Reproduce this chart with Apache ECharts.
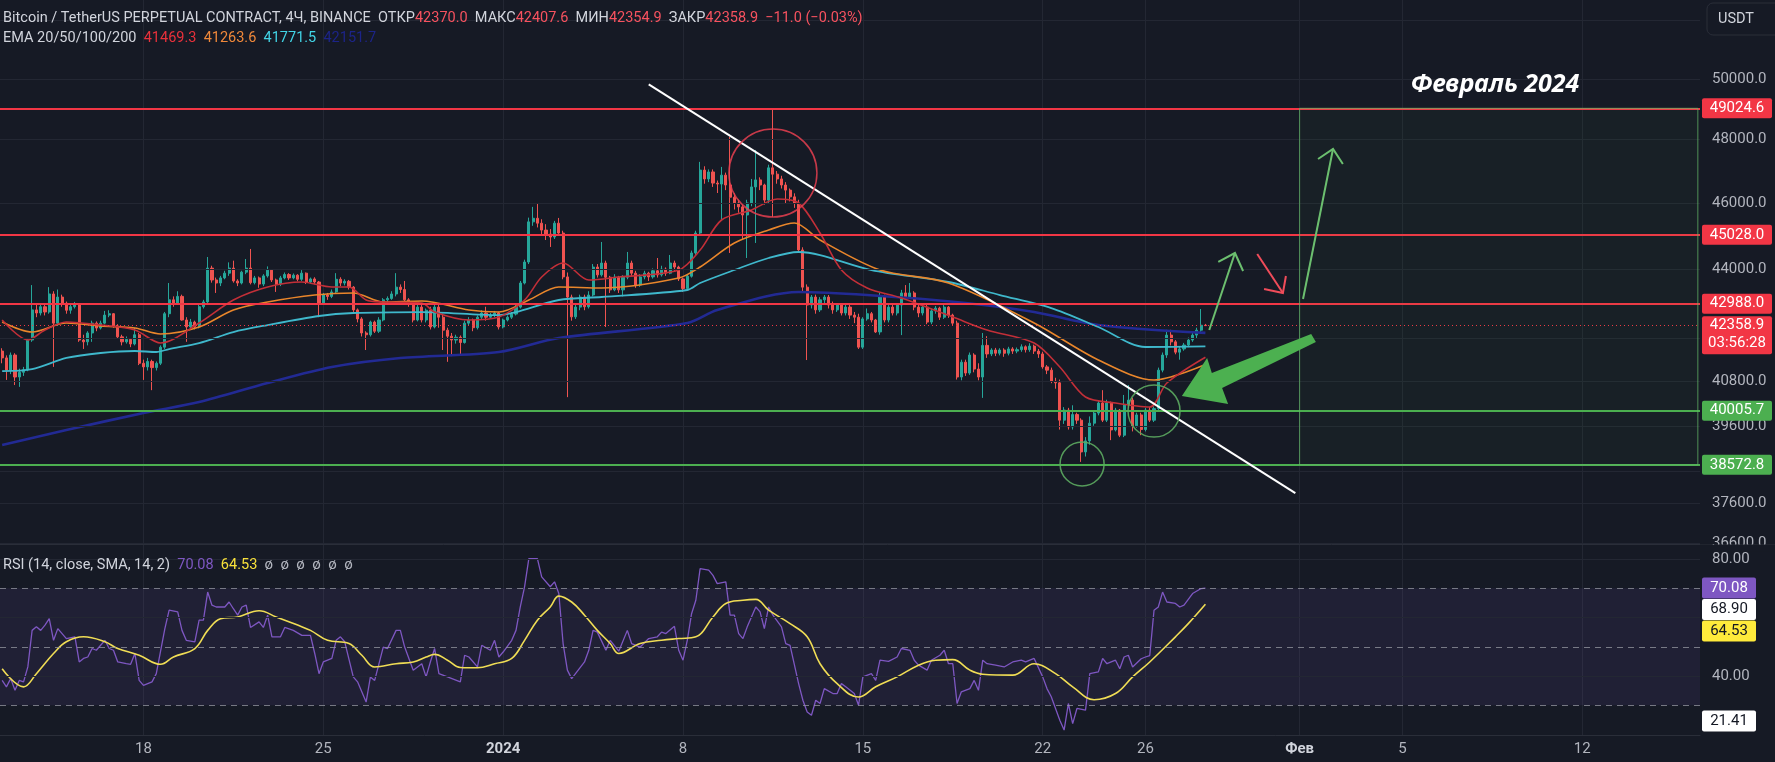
<!DOCTYPE html>
<html><head><meta charset="utf-8">
<script src="https://cdn.jsdelivr.net/npm/echarts/dist/echarts.min.js"></script>
<style>html,body{margin:0;padding:0;background:#161a25;overflow:hidden}#c{width:1775px;height:762px}</style>
</head><body><div id="c"></div>
<script>
// ---------- time grid (4H candles) ----------
const START = Date.UTC(2023, 11, 12, 12);
const N_SLOTS = 397;
const categories = [];
for (let i = 0; i < N_SLOTS; i++) {
  categories.push(new Date(START + i * 4 * 3600 * 1000).toISOString().slice(0, 16).replace('T', ' '));
}
const timeLabels = [
  ['2023-12-18 00:00', '18'], ['2023-12-25 00:00', '25'], ['2024-01-01 00:00', '2024'],
  ['2024-01-08 00:00', '8'], ['2024-01-15 00:00', '15'], ['2024-01-22 00:00', '22'],
  ['2024-01-26 00:00', '26'], ['2024-02-01 00:00', 'Фев'], ['2024-02-05 00:00', '5'],
  ['2024-02-12 00:00', '12']
];
const boldLabels = ['2024', 'Фев'];

// ---------- candles [open, close, low, high] ----------
const ohlc = [
[41640,41450,41300,41720],[41450,41110,40840,41520],[41110,41530,41000,41600],[41530,40920,40700,41580],
[40920,41050,40650,41150],[41050,41120,40950,41200],[41120,41950,41080,42000],[41950,42810,41900,43530],
[42810,42720,42600,43000],[42720,42900,42650,43000],[42900,42750,42650,42950],[42750,43270,42700,43470],
[43270,42430,41200,43350],[42430,43180,42350,43400],[43180,43000,42900,43250],[43000,42800,42700,43050],
[42800,42900,42700,43000],[42900,42950,42850,43040],[42950,41950,41900,43000],[41950,41900,41700,42100],
[41900,42150,41800,42200],[42150,42430,41900,42500],[42430,42290,42200,42480],[42290,42430,42250,42500],
[42430,42660,42400,42780],[42660,42700,42600,42800],[42700,42350,42300,42720],[42350,42040,41980,42400],
[42040,41900,41800,42100],[41900,41970,41850,42050],[41970,41840,41750,42000],[41840,42100,41800,42300],
[42100,41300,41250,42150],[41300,41200,40840,41400],[41200,41350,41100,41450],[41350,41180,40560,41400],
[41180,41300,41100,41350],[41300,41750,41250,41800],[41750,42700,41700,42750],[42700,43100,42600,43590],
[43100,43000,42900,43200],[43000,43200,42950,43350],[43200,42520,42500,43250],[42520,42320,41900,42600],
[42320,42460,42250,42550],[42460,42320,42250,42500],[42320,42900,42280,42950],[42900,43040,42850,43100],
[43040,44030,42990,44360],[44030,43680,43600,44100],[43680,43590,43300,43750],[43590,43740,43500,43800],
[43740,43880,43700,43950],[43880,44030,43800,44200],[44030,43650,43600,44250],[43650,43590,43500,43700],
[43590,43910,43550,43950],[43910,44030,43850,44300],[44030,43600,43550,44600],[43600,43740,43550,43800],
[43740,43560,43450,43780],[43560,43800,43500,43850],[43800,43970,43750,44080],[43970,43680,43620,44000],
[43680,43560,43330,43720],[43560,43740,43500,43800],[43740,43840,43700,43900],[43840,43740,43680,43880],
[43740,43820,43700,43870],[43820,43700,43640,43850],[43700,43880,43650,43970],[43880,43620,43560,43900],
[43620,43710,43580,43750],[43710,43620,43550,43760],[43620,43010,42600,43650],[43010,43240,42950,43300],
[43240,43200,43100,43300],[43200,43330,43150,43400],[43330,43700,43300,43880],[43700,43590,43500,43760],
[43590,43640,43520,43700],[43640,43470,43400,43680],[43470,42810,42750,43500],[42810,42550,42450,42850],
[42550,42150,42050,42600],[42150,42100,41670,42200],[42100,42460,42050,42500],[42460,42200,42150,42500],
[42200,42520,42150,42600],[42520,43100,42480,43150],[43100,43140,43000,43200],[43140,43270,43100,43350],
[43270,43470,43200,43880],[43470,43400,43300,43550],[43400,43100,43050,43650],[43100,43010,42900,43150],
[43010,42520,42450,43050],[42520,42890,42480,42950],[42890,42520,42450,42950],[42520,42800,42450,42850],
[42800,42320,42250,42900],[42320,42890,42280,42950],[42890,42600,42300,43000],[42600,42230,41670,42700],
[42230,42060,41340,42300],[42060,41950,41500,42150],[41950,42030,41850,42100],[42030,41880,41550,42080],
[41880,42430,41850,42500],[42430,42520,42350,42600],[42520,42300,42200,42560],[42300,42600,42250,42650],
[42600,42720,42550,42800],[42720,42600,42500,42900],[42600,42650,42550,42720],[42650,42720,42600,42780],
[42720,42320,42250,42760],[42320,42520,42280,42560],[42520,42600,42480,42650],[42600,42690,42550,42750],
[42690,42890,42650,42950],[42890,43590,42850,43650],[43590,44210,43550,44280],[44210,45420,44150,45550],
[45420,45530,45300,45880],[45530,45380,45250,46000],[45380,45170,45050,45500],[45170,45050,44870,45350],
[45050,44960,44660,45200],[44960,45380,44900,45450],[45380,45080,45000,45540],[45080,43770,43700,45150],
[43770,43180,40370,43900],[43180,42610,42500,43250],[42610,42890,42550,42950],[42890,43180,42800,43250],
[43180,42900,42800,43250],[42900,43240,42850,43350],[43240,44060,43200,44150],[44060,43830,43750,44150],
[43830,44180,43780,44810],[44180,43760,42320,44250],[43760,43390,43300,43800],[43390,43760,43350,43850],
[43760,43390,43300,43800],[43390,43760,43200,43820],[43760,44180,43700,44510],[44180,43880,43800,44250],
[43880,43530,43450,43950],[43530,43770,43480,43850],[43770,43880,43700,43950],[43880,43770,43650,43920],
[43770,43950,43720,44020],[43950,43830,43750,44330],[43830,44000,43780,44100],[44000,43880,43800,44050],
[43880,44180,43850,44420],[44180,44060,43950,44250],[44060,43710,43650,44100],[43710,43430,43330,43750],
[43430,43790,43380,43850],[43790,44480,43750,44550],[44480,45080,44400,45150],[45080,47030,45000,47290],
[47030,46750,46600,47150],[46750,46970,46650,47050],[46970,46620,46500,47050],[46620,46590,46310,46700],
[46590,46870,45480,47130],[46870,46560,46400,46950],[46560,46180,44480,48090],[46180,46000,45800,46300],
[46000,45880,45700,46100],[45880,45630,44870,45950],[45630,46000,44330,46100],[46000,46500,45900,46750],
[46500,46720,44780,47670],[46720,46560,46400,46800],[46560,46090,45950,46600],[46090,47100,46000,47200],
[47100,46900,45570,49024.6],[46900,46750,46600,47000],[46750,46560,46450,46850],[46560,46400,46000,46650],
[46400,46190,46050,46450],[46190,46000,45850,46300],[46000,44570,44500,46100],[44570,43470,43300,44650],
[43470,42950,41390,43550],[42950,43180,42850,43240],[43180,42810,42700,43250],[42810,43100,42750,43180],
[43100,43180,43000,43240],[43180,42950,42850,43240],[42950,42810,42700,43050],[42810,42950,42750,43000],
[42950,42720,42650,43000],[42720,42890,42650,42950],[42890,42660,42550,42950],[42660,42600,42430,42750],
[42600,41750,41700,42700],[41750,42550,41700,42600],[42550,42700,42500,42850],[42700,42520,42450,42750],
[42520,42180,42150,42550],[42180,43200,42100,43300],[43200,42520,42450,43250],[42520,42890,42450,42950],
[42890,42720,42650,42950],[42720,42950,42650,43000],[42950,43300,42090,43390],[43300,43180,43100,43530],
[43180,43300,43150,43590],[43300,42890,42800,43350],[42890,42720,42600,42950],[42720,42890,42650,42950],
[42890,42460,42400,42950],[42460,42780,42400,42850],[42780,42860,42700,42920],[42860,42600,42520,42900],
[42600,42890,42550,42950],[42890,42660,42580,42920],[42660,42430,42350,42700],[42430,40920,40850,42500],
[40920,41330,40830,41400],[41330,41030,40950,41400],[41030,41530,40980,41600],[41530,41140,41050,41580],
[41140,40920,40830,41300],[40920,41800,40350,42150],[41800,41560,41450,42060],[41560,41670,41500,41720],
[41670,41580,41500,41730],[41580,41670,41520,41720],[41670,41580,41480,41720],[41580,41700,41520,41760],
[41700,41640,41560,41750],[41640,41680,41580,41740],[41680,41760,41620,41830],[41760,41680,41600,41800],
[41680,41780,41620,41860],[41780,41640,41560,41820],[41640,41560,41450,41700],[41560,41200,41150,41620],
[41200,41110,41000,41250],[41110,40800,40750,41180],[40800,40760,40600,40900],[40760,39750,39500,40850],
[39750,40020,39650,40100],[40020,39570,39500,40080],[39570,39900,39500,40150],[39900,39750,39650,39950],
[39750,38910,38650,39800],[38910,39200,38790,39300],[39200,39670,39100,39850],[39670,39940,39600,40000],
[39940,40210,39880,40290],[40210,39750,39700,40560],[39750,40210,39700,40300],[40210,39490,39220,40250],
[39490,40020,39450,40080],[40020,39350,39300,40050],[39350,40160,39300,40430],[40160,40290,40080,40700],
[40290,39600,39450,40350],[39600,39890,39550,39950],[39890,39500,39350,39950],[39500,40020,39450,40080],
[40020,39750,39700,40100],[39750,40060,39700,40120],[40060,41110,39980,41180],[41110,41530,41050,41600],
[41530,42090,41450,42240],[42090,41900,41800,42240],[41900,41610,41550,41950],[41610,41700,41400,41780],
[41700,41810,41650,41870],[41810,41950,41750,42020],[41950,42090,41900,42150],[42090,42230,42000,42300],
[42230,42370,42180,42835],[42370,42358.9,42354.9,42407.6]
];

// ---------- EMAs [candle index, price] ----------
const ema20 = [[0,42519],[6,41951],[10,42234],[15,42462],[23,42376],[31,42234],[37,41866],[46,42433],[54,43095],[62,43474],[70,43620],[77,43474],[81,43474],[85,43095],[89,43037],[98,43008],[101,42748],[109,42519],[116,42605],[122,43095],[126,43766],[131,44181],[137,43678],[144,43766],[158,43973],[163,44568],[168,45477],[175,45784],[181,46124],[186,46000],[191,45081],[196,43973],[202,43445],[210,43153],[222,42605],[230,42234],[241,41866],[247,41197],[253,40374],[260,40211],[268,40103],[272,40756],[281,41469.3]];
const ema50 = [[0,42462],[7,42177],[15,42433],[23,42348],[31,42291],[37,42120],[46,42319],[54,42806],[62,43037],[73,43240],[82,43299],[89,43037],[98,43066],[109,42806],[116,42748],[123,43095],[130,43474],[140,43445],[158,43737],[163,44062],[171,44779],[179,45172],[185,45385],[191,44869],[205,43973],[221,43590],[241,42433],[256,41391],[269,40838],[281,41263.6]];
const ema100 = [[0,41085],[7,41141],[15,41447],[23,41586],[31,41642],[36,41614],[39,41698],[46,41866],[54,42177],[62,42376],[74,42634],[82,42720],[98,42748],[116,42662],[120,42748],[130,43095],[140,43182],[160,43386],[163,43590],[171,43973],[179,44330],[186,44509],[191,44419],[203,43973],[221,43620],[233,43240],[245,42863],[256,42319],[267,41754],[281,41771.5]];
const ema200 = [[0,39091],[15,39487],[33,39942],[46,40238],[62,40756],[77,41197],[93,41447],[116,41614],[130,42007],[160,42433],[167,42806],[186,43328],[202,43240],[225,43008],[241,42748],[256,42376],[281,42151.7]];
const emaLast = ['41469.3', '41263.6', '41771.5', '42151.7'];

// ---------- RSI (14) and its SMA ----------
const rsi = [[0,38.5],[1,36.3],[2,39.1],[3,35.1],[4,38.5],[5,38.0],[6,43.1],[7,55.6],[8,56.8],[9,55.6],[10,57.4],[11,59.6],[12,52.2],[13,56.2],[14,54.5],[15,52.8],[17,53.4],[18,44.8],[19,46.0],[20,46.5],[21,49.4],[22,48.8],[23,50.5],[24,52.2],[25,49.4],[26,48.8],[27,44.8],[29,44.2],[30,44.0],[31,47.7],[32,38.5],[33,36.8],[35,38.0],[36,40.8],[38,56.2],[39,62.5],[41,61.9],[42,55.6],[43,52.2],[45,51.7],[46,59.1],[47,59.1],[48,68.7],[49,64.2],[50,63.6],[52,63.6],[53,65.3],[54,63.0],[55,60.8],[56,63.6],[57,64.2],[58,56.6],[60,58.5],[61,56.6],[62,60.8],[63,53.4],[65,53.4],[66,56.6],[68,55.6],[70,53.9],[72,53.9],[73,47.7],[74,40.8],[75,44.8],[77,46.0],[78,52.2],[79,53.4],[80,51.7],[82,39.7],[83,38.0],[85,31.1],[86,39.7],[87,38.5],[89,49.9],[90,49.4],[92,55.6],[93,55.6],[94,49.9],[96,42.0],[98,44.2],[99,39.7],[100,44.8],[101,49.4],[102,40.8],[104,39.7],[107,38.0],[108,47.1],[109,46.5],[111,43.1],[112,50.5],[114,48.8],[115,52.2],[116,46.5],[117,48.2],[119,52.2],[120,55.6],[121,63.6],[122,70.5],[123,80.1],[125,80.1],[126,73.9],[128,70.5],[129,72.2],[130,68.2],[131,51.1],[132,42.0],[133,39.1],[136,44.8],[137,48.8],[138,55.6],[139,55.0],[141,48.8],[142,52.2],[144,48.5],[146,55.6],[147,51.1],[149,49.9],[151,52.8],[153,53.4],[154,55.0],[155,54.5],[157,57.0],[158,48.8],[159,45.4],[160,52.2],[161,61.3],[162,65.9],[163,76.7],[165,76.2],[166,74.4],[167,71.6],[169,72.2],[170,60.8],[171,60.8],[172,54.5],[173,52.8],[174,56.8],[176,63.6],[177,61.9],[178,56.2],[179,63.6],[180,60.8],[182,56.8],[183,51.1],[184,50.5],[186,37.4],[187,31.7],[188,27.7],[189,26.6],[190,31.7],[191,30.6],[192,35.7],[194,34.0],[195,34.0],[196,37.4],[197,36.3],[199,34.0],[200,30.0],[201,39.7],[203,40.8],[204,38.5],[205,45.4],[207,45.0],[209,46.5],[210,49.4],[212,48.8],[213,45.4],[214,43.7],[216,42.0],[217,45.4],[219,47.1],[220,48.8],[221,44.2],[222,44.2],[223,30.6],[224,34.6],[226,35.7],[227,38.5],[228,35.1],[229,45.4],[230,44.2],[232,43.7],[234,43.1],[236,44.8],[238,45.4],[239,44.8],[241,46.0],[243,39.7],[244,35.7],[245,32.9],[247,24.9],[248,21.5],[249,30.6],[250,23.7],[251,28.9],[253,28.3],[254,40.8],[256,41.4],[257,46.0],[258,44.2],[260,45.4],[261,42.5],[262,46.5],[263,47.1],[264,43.1],[266,45.9],[267,46.5],[268,47.0],[269,62.5],[270,63.6],[271,68.7],[272,65.3],[274,64.8],[275,63.6],[276,64.2],[278,68.2],[280,69.9],[281,70.08]];
const rsiMa = [[0,42.5],[5,36.3],[8,40.8],[12,47.7],[15,51.7],[19,53.4],[24,51.7],[27,49.4],[32,47.1],[37,44.0],[40,46.5],[45,49.4],[48,55.6],[51,59.6],[55,60.2],[60,62.3],[64,60.2],[69,57.4],[72,55.6],[76,52.2],[81,51.1],[84,47.1],[87,43.1],[92,44.2],[96,44.8],[99,46.5],[101,47.4],[104,45.4],[107,42.9],[111,42.8],[115,44.2],[119,46.0],[122,52.2],[125,59.1],[128,63.6],[130,67.3],[133,65.3],[136,60.8],[139,55.6],[142,51.1],[144,47.7],[149,51.1],[154,52.2],[158,52.8],[162,53.4],[166,60.2],[169,64.8],[173,65.9],[176,66.2],[179,62.5],[184,57.9],[188,53.4],[191,44.2],[195,37.4],[200,32.8],[204,36.3],[209,39.7],[214,43.7],[218,45.4],[222,45.6],[226,42.0],[229,40.6],[236,40.3],[241,44.2],[246,40.8],[250,36.3],[255,31.9],[260,34.0],[264,39.7],[268,44.8],[274,53.4],[277,57.9],[281,64.53]];

// ---------- price scale ----------
const priceGrid = [52000, 50000, 48000, 46000, 44000, 42000, 40800, 39600, 38400, 37600, 36600];
const priceTickLabels = [50000, 48000, 46000, 44000, 40800, 39600, 37600, 36600];
const redLevels = [49024.6, 45028.0, 42988.0];
const greenLevels = [40005.7, 38572.8];
const lastPrice = 42358.9;
const countdown = '03:56:28';
const rsiGrid = [80, 60, 40];
const rsiTickLabels = [80, 40];
const rsiBands = [70, 50, 30];
const rsiValueBoxes = [['70.08', '#7e57c2', '#ffffff'], ['68.90', '#ffffff', '#131722'], ['64.53', '#ffeb3b', '#131722']];
const rsiLowBox = '21.41';

// ---------- drawings (data coordinates: candle index, price) ----------
const trendLine = [[151, 49819], [302, 37848]];
const redCircle = {c: [180, 46937], r: 44};
const greenCircles = [{c: [252.2, 38595], r: 22}, {c: [269, 39995], r: 26}];
const smallUpArrow = {shaft: [[281.9, 42234], [287.9, 44479]], head: [[284.0, 44211], [287.9, 44479], [289.8, 43943]]};
const redDownArrow = {shaft: [[293.1, 44449], [299.1, 43299]], head: [[294.7, 43416], [299.1, 43299], [299.8, 43796]]};
const bigUpArrow = {shaft: [[303.8, 43124], [310.8, 47701]], head: [[307.3, 47380], [310.8, 47701], [313.1, 47222]]};
const fatArrow = [[305.7, 42120], [282.5, 41030], [281.4, 41447], [275.5, 40401], [286.3, 40184], [284.9, 40619], [306.8, 41895]];
const targetBox = {from: [303, 49024.6], to: [396, 38572.8]};
const noteText = {pos: [348.6, 49799], text: 'Февраль 2024'};

// ---------- chart ----------
const FONT = 'Roboto, "DejaVu Sans", sans-serif';
const BG = '#161a25';
const GRID = '#232733';
const labelMap = {};
timeLabels.forEach(([k, v]) => { labelMap[k] = v; });
const isLabel = (i, v) => labelMap[v] !== undefined;
const fmtTime = v => {
  const t = labelMap[v];
  if (!t) return '';
  return boldLabels.includes(t) ? '{b|' + t + '}' : t;
};

const chart = echarts.init(document.getElementById('c'));
const option = {
  backgroundColor: BG,
  animation: false,
  grid: [
    {left: 0, right: 75, top: 0, height: 544},
    {left: 0, right: 75, top: 545, height: 190}
  ],
  xAxis: [
    {type: 'category', gridIndex: 0, data: categories, boundaryGap: true,
     axisLine: {show: false}, axisTick: {show: false}, axisLabel: {show: false},
     splitLine: {show: true, interval: isLabel, alignWithLabel: true, lineStyle: {color: GRID, width: 1}}},
    {type: 'category', gridIndex: 1, data: categories, boundaryGap: true,
     axisLine: {show: true, lineStyle: {color: '#2a2e39'}}, axisTick: {show: false},
     axisLabel: {show: true, interval: isLabel, formatter: fmtTime, color: '#b2b5be', fontSize: 15, fontFamily: FONT, margin: 7,
                 rich: {b: {fontWeight: 'bold', fontSize: 15, color: '#d1d4dc', fontFamily: FONT}}},
     splitLine: {show: true, interval: isLabel, alignWithLabel: true, lineStyle: {color: GRID, width: 1}}},
    {type: 'value', gridIndex: 0, min: -0.5, max: N_SLOTS - 0.5, show: false}
  ],
  yAxis: [
    {type: 'log', logBase: 10, gridIndex: 0, min: 36574, max: 52728, show: false, splitLine: {show: false}},
    {type: 'value', gridIndex: 1, min: 19.83, max: 84.79, show: false, splitLine: {show: false}}
  ],
  series: [
    {name: 'grid', type: 'line', xAxisIndex: 0, yAxisIndex: 0, data: [], z: 1, silent: true,
     markLine: {silent: true, symbol: 'none', animation: false, label: {show: false},
                lineStyle: {color: GRID, width: 1, type: 'solid'},
                data: priceGrid.map(v => ({yAxis: v}))}},
    {name: 'BTCUSDT', type: 'candlestick', xAxisIndex: 0, yAxisIndex: 0, data: ohlc, z: 3, barWidth: 2.6,
     itemStyle: {color: '#26a69a', color0: '#ef5350', borderColor: '#26a69a', borderColor0: '#ef5350', borderWidth: 1}},
    {name: 'EMA200', type: 'line', xAxisIndex: 0, yAxisIndex: 0, data: ema200, showSymbol: false, smooth: 0.3, z: 4,
     lineStyle: {color: '#222a94', width: 2.6}},
    {name: 'EMA100', type: 'line', xAxisIndex: 0, yAxisIndex: 0, data: ema100, showSymbol: false, smooth: 0.3, z: 4,
     lineStyle: {color: '#3fb8cc', width: 1.8}},
    {name: 'EMA50', type: 'line', xAxisIndex: 0, yAxisIndex: 0, data: ema50, showSymbol: false, smooth: 0.3, z: 4,
     lineStyle: {color: '#e9862b', width: 1.6}},
    {name: 'EMA20', type: 'line', xAxisIndex: 0, yAxisIndex: 0, data: ema20, showSymbol: false, smooth: 0.3, z: 4,
     lineStyle: {color: '#c22f38', width: 1.6}},
    {name: 'levels', type: 'line', xAxisIndex: 0, yAxisIndex: 0, data: [], z: 5, silent: true,
     markLine: {silent: true, symbol: 'none', animation: false, label: {show: false},
                data: redLevels.map(v => ({yAxis: v, lineStyle: {color: '#f23645', width: 2, type: 'solid'}}))
                  .concat(greenLevels.map(v => ({yAxis: v, lineStyle: {color: '#4caf50', width: 2, type: 'solid'}})))
                  .concat([{yAxis: lastPrice, lineStyle: {color: '#f23645', width: 1, type: [1, 3]}}])}},
    {name: 'rsiBg', type: 'line', xAxisIndex: 1, yAxisIndex: 1, data: [], z: 1, silent: true,
     markArea: {silent: true, itemStyle: {color: 'rgba(126,87,194,0.1)'}, data: [[{yAxis: rsiBands[2]}, {yAxis: rsiBands[0]}]]},
     markLine: {silent: true, symbol: 'none', animation: false, label: {show: false},
                data: rsiGrid.map(v => ({yAxis: v, lineStyle: {color: GRID, width: 1, type: 'solid'}}))
                  .concat(rsiBands.map(v => ({yAxis: v, lineStyle: {color: 'rgba(149,152,161,0.75)', width: 1, type: [6, 5]}})))}},
    {name: 'RSI', type: 'line', xAxisIndex: 1, yAxisIndex: 1, data: rsi, showSymbol: false, z: 4,
     lineStyle: {color: '#7e57c2', width: 1.3}},
    {name: 'RSI MA', type: 'line', xAxisIndex: 1, yAxisIndex: 1, data: rsiMa, showSymbol: false, smooth: 0.4, z: 4,
     lineStyle: {color: '#f0dd55', width: 1.6}}
  ]
};
chart.setOption(option);

// ---------- overlay texts and drawings, positioned through the axes ----------
const px = i => chart.convertToPixel({xAxisIndex: 2}, i);
const py = p => chart.convertToPixel({yAxisIndex: 0}, p);
const ry = v => chart.convertToPixel({yAxisIndex: 1}, v);
const P = d => [px(d[0]), py(d[1])];
const g = [];
const txt = (x, y, text, fill, font, align, extra) => g.push(Object.assign({type: 'text', x: x, y: y, z: 120, silent: true,
  style: {text: text, fill: fill, font: font, align: align || 'left', verticalAlign: 'middle'}}, extra || {}));

// header legend
const last = ohlc[ohlc.length - 1];
g.push({type: 'text', x: 3, y: 18, z: 120, silent: true, style: {
  text: 'Bitcoin / TetherUS PERPETUAL CONTRACT, 4Ч, BINANCE  ОТКР{r|' + last[0].toFixed(1) + '}  МАКС{r|' + last[3].toFixed(1) +
        '}  МИН{r|' + last[2].toFixed(1) + '}  ЗАКР{r|' + last[1].toFixed(1) + '}  {r|−11.0 (−0.03%)}',
  fill: '#d1d4dc', font: '14.5px ' + FONT, verticalAlign: 'middle',
  rich: {r: {fill: '#f7525f', font: '14.5px ' + FONT}}}});
g.push({type: 'text', x: 3, y: 38, z: 120, silent: true, style: {
  text: 'EMA 20/50/100/200  {a|' + emaLast[0] + '}  {b|' + emaLast[1] + '}  {c|' + emaLast[2] + '}  {d|' + emaLast[3] + '}',
  fill: '#d1d4dc', font: '14.5px ' + FONT, verticalAlign: 'middle',
  rich: {a: {fill: '#e8313b', font: '14.5px ' + FONT}, b: {fill: '#f0883a', font: '14.5px ' + FONT},
         c: {fill: '#42d4e6', font: '14.5px ' + FONT}, d: {fill: '#1c2488', font: '14.5px ' + FONT}}}});
// RSI legend
g.push({type: 'text', x: 3, y: 565, z: 120, silent: true, style: {
  text: 'RSI (14, close, SMA, 14, 2)  {p|70.08}  {y|64.53}  {o|ø  ø  ø  ø  ø  ø}',
  fill: '#d1d4dc', font: '14.5px ' + FONT, verticalAlign: 'middle',
  rich: {p: {fill: '#7e57c2', font: '14.5px ' + FONT}, y: {fill: '#f7e03a', font: '14.5px ' + FONT},
         o: {fill: '#b2b5be', font: '15px ' + FONT}}}});

// drawings
const tl0 = P(trendLine[0]), tl1 = P(trendLine[1]);
g.push({type: 'line', z: 100, silent: true, shape: {x1: tl0[0], y1: tl0[1], x2: tl1[0], y2: tl1[1]}, style: {stroke: '#ffffff', lineWidth: 2}});
const b0 = P(targetBox.from), b1 = P(targetBox.to);
g.push({type: 'rect', z: 99, silent: true, shape: {x: b0[0], y: b0[1], width: b1[0] - b0[0], height: b1[1] - b0[1]},
  style: {fill: 'rgba(76,175,80,0.045)', stroke: 'rgba(102,187,106,0.75)', lineWidth: 1}});
const rc = P(redCircle.c);
g.push({type: 'circle', z: 100, silent: true, shape: {cx: rc[0], cy: rc[1], r: redCircle.r}, style: {fill: 'none', stroke: 'rgba(232,64,80,0.85)', lineWidth: 1.5}});
greenCircles.forEach(c => { const q = P(c.c);
  g.push({type: 'circle', z: 100, silent: true, shape: {cx: q[0], cy: q[1], r: c.r}, style: {fill: 'none', stroke: 'rgba(92,170,96,0.9)', lineWidth: 1.5}}); });
const arrow = (a, color) => {
  g.push({type: 'polyline', z: 100, silent: true, shape: {points: a.shaft.map(P)}, style: {stroke: color, lineWidth: 2, fill: null}});
  g.push({type: 'polyline', z: 100, silent: true, shape: {points: a.head.map(P)}, style: {stroke: color, lineWidth: 2, fill: null}});
};
arrow(smallUpArrow, '#6cbf6f');
arrow(redDownArrow, '#f04c5a');
arrow(bigUpArrow, '#6cbf6f');
g.push({type: 'polygon', z: 101, silent: true, shape: {points: fatArrow.map(P)}, style: {fill: '#4cb050'}});
const nt = P(noteText.pos);
g.push({type: 'text', x: nt[0], y: nt[1], z: 120, silent: true, style: {text: noteText.text, fill: '#ffffff',
  font: 'italic bold 25px "Noto Sans", ' + FONT, align: 'center', verticalAlign: 'middle'}});

// price scale labels
priceTickLabels.forEach(v => txt(1712, py(v), v.toFixed(1), '#b2b5be', '15px ' + FONT));
g.push({type: 'rect', z: 121, silent: true, shape: {x: 1700, y: 544.5, width: 75, height: 7}, style: {fill: BG}});
const box = (y, h, w, bg) => g.push({type: 'rect', z: 125, silent: true, shape: {x: 1702, y: y - h / 2, width: w, height: h, r: 2}, style: {fill: bg}});
redLevels.forEach(v => { const y = py(v); box(y, 20, 70, '#f23645'); txt(1737, y, v.toFixed(1), '#ffffff', '15px ' + FONT, 'center', {z: 126}); });
greenLevels.forEach(v => { const y = py(v); box(y, 20, 70, '#4caf50'); txt(1737, y, v.toFixed(1), '#ffffff', '15px ' + FONT, 'center', {z: 126}); });
const ly = py(lastPrice);
g.push({type: 'rect', z: 125, silent: true, shape: {x: 1702, y: ly - 9.5, width: 70, height: 38, r: 2}, style: {fill: '#f23645'}});
txt(1737, ly, lastPrice.toFixed(1), '#ffffff', '15px ' + FONT, 'center', {z: 126});
txt(1737, ly + 18, countdown, '#ffffff', '15px ' + FONT, 'center', {z: 126});
// USDT button
g.push({type: 'rect', z: 125, silent: true, shape: {x: 1707, y: 3, width: 80, height: 32, r: 6}, style: {fill: BG, stroke: '#2a2e39', lineWidth: 1}});
txt(1718, 19, 'USDT', '#d1d4dc', '14.5px ' + FONT, 'left', {z: 126});
// pane separator
g.push({type: 'line', z: 110, silent: true, shape: {x1: 0, y1: 544.5, x2: 1775, y2: 544.5}, style: {stroke: '#2a2e39', lineWidth: 1}});
// RSI scale labels
rsiTickLabels.forEach(v => txt(1712, ry(v), v.toFixed(2), '#b2b5be', '15px ' + FONT));
let yy = ry(parseFloat(rsiValueBoxes[0][0]));
rsiValueBoxes.forEach(([t, bg, fg]) => {
  g.push({type: 'rect', z: 125, silent: true, shape: {x: 1702, y: yy - 10.5, width: 54, height: 21, r: 2}, style: {fill: bg}});
  txt(1729, yy, t, fg, '15px ' + FONT, 'center', {z: 126});
  yy += 21.5;
});
const lowY = Math.min(ry(parseFloat(rsiLowBox)), 721);
g.push({type: 'rect', z: 125, silent: true, shape: {x: 1702, y: lowY - 10.5, width: 54, height: 21, r: 2}, style: {fill: '#ffffff'}});
txt(1729, lowY, rsiLowBox, '#131722', '15px ' + FONT, 'center', {z: 126});

chart.setOption({graphic: {elements: g}});
</script>
</body></html>
